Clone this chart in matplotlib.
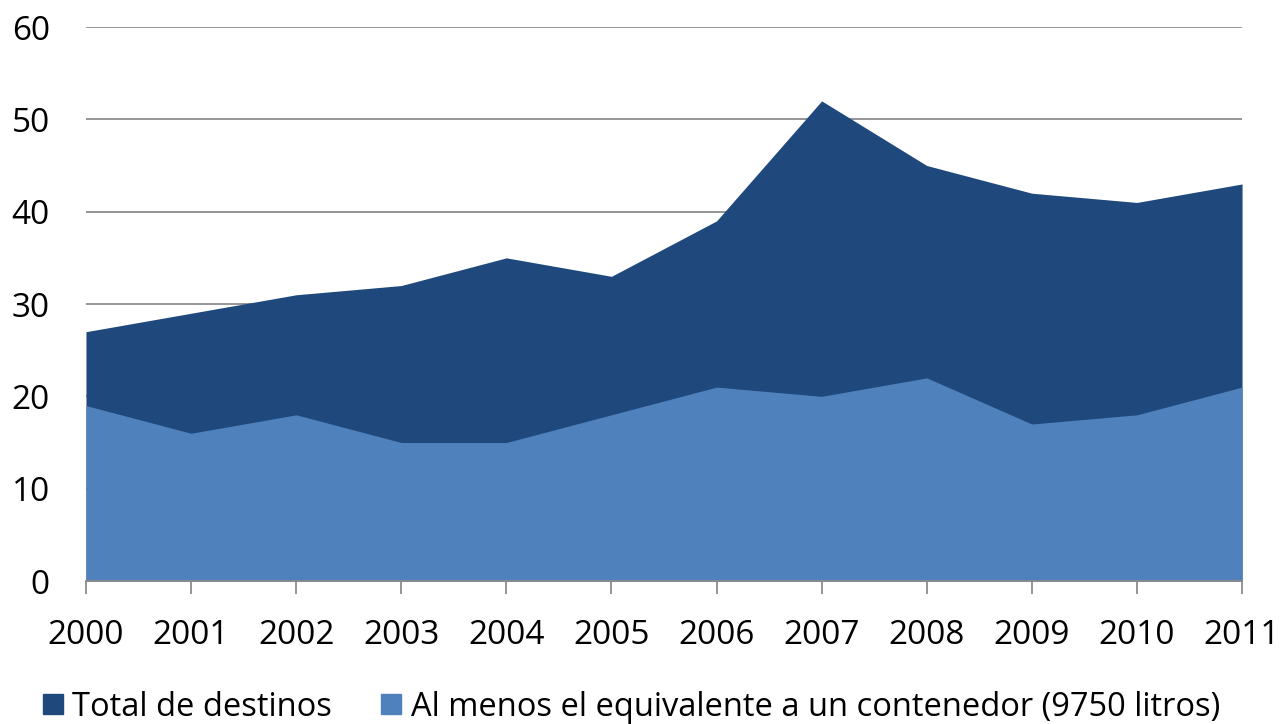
import matplotlib.pyplot as plt
from matplotlib.patches import Patch

years = list(range(2000, 2012))
total_destinos = [27, 29, 31, 32, 35, 33, 39, 52, 45, 42, 41, 43]
contenedor = [19, 16, 18, 15, 15, 18, 21, 20, 22, 17, 18, 21]

dark = '#1F497D'
light = '#4F81BD'

plt.rcParams['font.family'] = ['Open Sans', 'DejaVu Sans']

fig = plt.figure(figsize=(12.81, 7.24), dpi=100)
ax = fig.add_axes([0.0671, 0.1975, 0.9025, 0.7652])

ax.fill_between(years, 0, total_destinos, color=dark, lw=0, zorder=2)
ax.fill_between(years, 0, contenedor, color=light, lw=0, zorder=3)

ax.set_xlim(2000, 2011)
ax.set_ylim(0, 60)
ax.set_yticks(range(0, 61, 10))
ax.set_xticks(years)
ax.yaxis.grid(True, color='#8c8c8c', lw=1.3, zorder=1)
ax.set_axisbelow(True)

for s in ['left', 'right', 'top']:
    ax.spines[s].set_visible(False)
ax.spines['bottom'].set_color('#8c8c8c')
ax.spines['bottom'].set_linewidth(1.3)
ax.spines['bottom'].set_zorder(4)

ax.tick_params(axis='y', length=0, labelsize=24, pad=26)
ax.tick_params(axis='x', length=9, width=1.3, color='#8c8c8c', labelsize=24, pad=18)

handles = [Patch(color=dark, label='Total de destinos'),
           Patch(color=light, label='Al menos el equivalente a un contenedor (9750 litros)')]
fig.legend(handles=handles, loc='lower center', bbox_to_anchor=(0.493, -0.04), ncol=2,
           frameon=False, fontsize=23.5, handlelength=0.6, handleheight=0.6,
           handletextpad=0.3, columnspacing=1.5)

fig.savefig('out.png', dpi=100)
